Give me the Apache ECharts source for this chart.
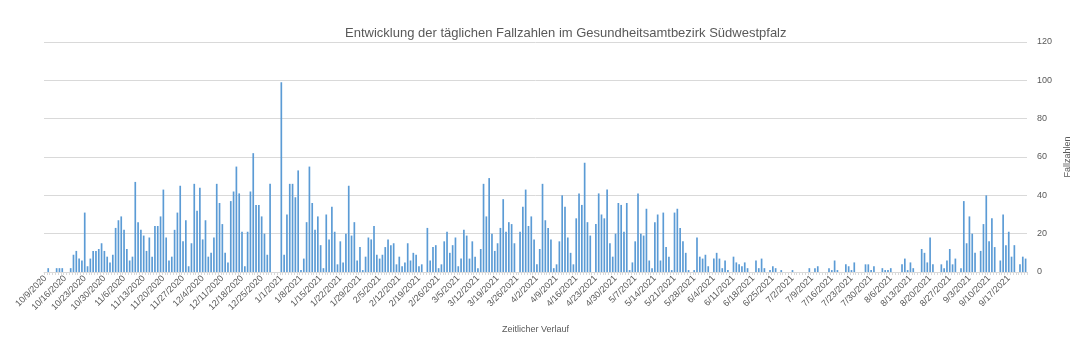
<!DOCTYPE html>
<html>
<head>
<meta charset="utf-8">
<script src="https://cdn.jsdelivr.net/npm/echarts@6/dist/echarts.min.js"></script>
<style>
  html, body { margin: 0; padding: 0; background: #fff; }
  #chart { width: 1083px; height: 351px; }
</style>
</head>
<body>
<div id="chart"></div>
<script>
// Tägliche Fallzahlen ab 9.10.2020
const startDate = new Date(2020, 9, 9);
const fallzahlen = [
  0, 2, 0, 0, 2, 2, 2, 0, 0, 2, 9, 11, 7, 6, 31, 3, 7, 11, 11, 12,
  15, 11, 8, 5, 9, 23, 27, 29, 22, 12, 6, 8, 47, 26, 22, 19, 11, 18, 8, 24,
  24, 29, 43, 18, 6, 8, 22, 31, 45, 16, 27, 3, 15, 46, 32, 44, 17, 27, 8, 10,
  18, 46, 36, 25, 10, 5, 37, 42, 55, 41, 21, 3, 21, 42, 62, 35, 35, 29, 20, 9,
  46, 0, 0, 0, 99, 9, 30, 46, 46, 39, 53, 1, 7, 26, 55, 36, 22, 29, 14, 2,
  30, 17, 34, 21, 4, 16, 5, 20, 45, 19, 26, 6, 13, 1, 8, 18, 17, 24, 9, 7,
  9, 13, 17, 14, 15, 4, 8, 3, 5, 15, 6, 10, 9, 3, 4, 0, 23, 6, 13, 14,
  2, 4, 16, 21, 10, 14, 18, 3, 7, 22, 19, 7, 16, 8, 2, 12, 46, 29, 49, 20,
  11, 15, 23, 38, 21, 26, 25, 15, 0, 21, 34, 43, 24, 29, 17, 4, 12, 46, 27, 23,
  17, 2, 4, 16, 40, 34, 18, 10, 4, 28, 41, 35, 57, 26, 19, 0, 25, 41, 30, 28,
  43, 15, 8, 20, 36, 35, 21, 36, 1, 5, 16, 41, 20, 19, 33, 6, 2, 26, 30, 6,
  31, 13, 8, 1, 31, 33, 23, 16, 10, 1, 0, 1, 18, 8, 7, 9, 3, 0, 7, 10,
  7, 2, 6, 1, 0, 8, 5, 4, 3, 5, 2, 0, 0, 6, 2, 7, 2, 0, 1, 3,
  2, 0, 1, 0, 0, 0, 1, 0, 0, 0, 0, 0, 2, 0, 2, 3, 0, 0, 0, 2,
  1, 6, 1, 0, 0, 4, 3, 1, 5, 0, 0, 0, 4, 4, 1, 3, 0, 0, 2, 1,
  1, 2, 0, 0, 0, 4, 7, 1, 5, 2, 0, 0, 12, 10, 5, 18, 4, 0, 0, 4,
  2, 6, 12, 4, 7, 0, 2, 37, 15, 29, 20, 10, 0, 11, 25, 40, 16, 28, 13, 0,
  6, 30, 14, 21, 8, 14, 0, 4, 8, 7
];
const yTicks = { min: 0, max: 120, interval: 20 };

const tage = fallzahlen.map((v, i) => {
  const d = new Date(startDate.getTime());
  d.setDate(d.getDate() + i);
  return (d.getMonth() + 1) + "/" + d.getDate() + "/" + d.getFullYear();
});

const textColor = "#595959";
const font = "'Liberation Sans', Arial, sans-serif";

const chart = echarts.init(document.getElementById("chart"));
chart.setOption({
  animation: false,
  title: {
    text: "Entwicklung der täglichen Fallzahlen im Gesundheitsamtbezirk Südwestpfalz",
    left: 340,
    top: 22,
    textStyle: {
      fontFamily: font,
      fontWeight: "normal",
      fontSize: 13,
      color: textColor,
    },
  },
  grid: {
    left: 44,
    right: 56,
    top: 42,
    bottom: 79,
    containLabel: false,
  },
  xAxis: {
    type: "category",
    data: tage,
    name: "Zeitlicher Verlauf",
    nameLocation: "middle",
    nameGap: 53,
    nameTextStyle: { fontFamily: font, fontSize: 9, color: textColor },
    axisLine: { lineStyle: { color: "#d9d9d9" } },
    axisTick: { show: true, interval: 0, length: 3, lineStyle: { color: "#d9d9d9" } },
    axisLabel: {
      interval: 6,
      rotate: 45,
      fontFamily: font,
      fontSize: 9,
      color: textColor,
      margin: 5,
    },
  },
  yAxis: {
    type: "value",
    position: "right",
    min: yTicks.min,
    max: yTicks.max,
    interval: yTicks.interval,
    name: "Fallzahlen",
    nameLocation: "middle",
    nameGap: 27,
    nameRotate: 90,
    nameTextStyle: { fontFamily: font, fontSize: 9, color: textColor },
    axisLine: { show: false },
    axisTick: { show: false },
    axisLabel: { fontFamily: font, fontSize: 9, color: textColor, margin: 10 },
    splitLine: { lineStyle: { color: "#d9d9d9" } },
  },
  series: [
    {
      type: "bar",
      data: fallzahlen,
      barCategoryGap: "40%",
      itemStyle: { color: "#5b9bd5" },
    },
  ],
});
</script>
</body>
</html>
